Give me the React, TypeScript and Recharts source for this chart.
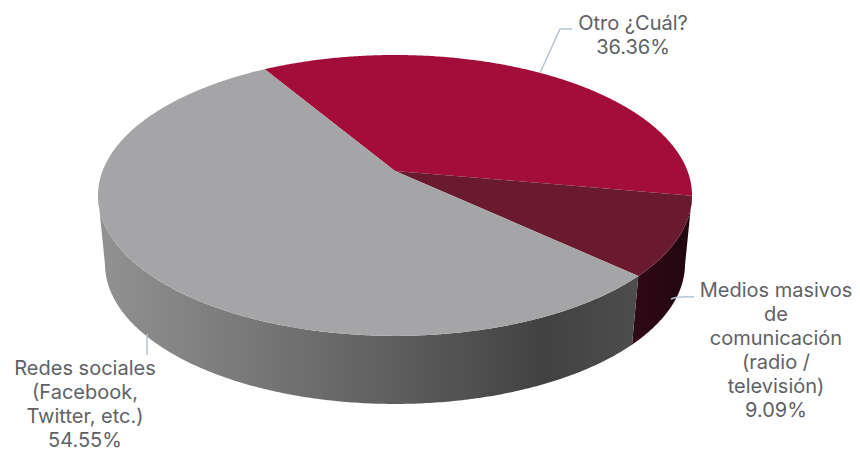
import { Pie, PieChart } from "recharts";

const sliceNames = ["Otro ¿Cuál?", "Medios masivos de comunicación", "Redes sociales"];
const sliceValues = [36.36, 9.09, 54.55];
const sliceLabels = [
  ["Otro ¿Cuál?"],
  ["Medios masivos", "de", "comunicación", "(radio /", "televisión)"],
  ["Redes sociales", "(Facebook,", "Twitter, etc.)"],
];
const topColors = ["#a30d3a", "#6a1a2e", "#a5a5a7"];
const wallColors = ["#2a0714", "url(#darkWall)", "url(#grayWall)"];

const CX = 395;
const CY = 171;
const RADIUS = 292.5;
const FIRST_ANGLE = 120.8;

// perspective of the disc, top face and underside
const TILT = 136.2 / 292.5;
const BOTTOM_TILT = 127.1 / 292.5;
const FALLOFF = 0.174;
const DEPTH = 70.8 / 292.5;
const DEPTH_FALLOFF = 0.0235;
// rim is only seen between its two tangent points
const RIM_FROM = -10;
const RIM_TO = -170;

// where each label sits: text centre, first baseline, leader line
const labelLayout = [
  { x: 633, y: 30, line: "M540 73 L560 29 L572 29" },
  { x: 776, y: 297, line: "M671 299 Q678 296 694 297" },
  { x: 85, y: 375, line: "M147 334 L147 355" },
];
const LINE_HEIGHT = 24;

const tableTop = sliceNames.map((name, i) => ({ name, value: sliceValues[i], fill: topColors[i] }));
const tableWall = sliceNames.map((name, i) => ({ name, value: sliceValues[i], fill: wallColors[i] }));

function project(angle: number, z: number, cx: number, cy: number, r: number) {
  const rad = (angle * Math.PI) / 180;
  const u = Math.cos(rad);
  const v = Math.sin(rad);
  const w = 1 + FALLOFF * v + DEPTH_FALLOFF * z;
  const tilt = z ? BOTTOM_TILT : TILT;
  return [cx + (r * u) / w, cy + (r * (-tilt * v + DEPTH * z)) / w];
}

function arcPoints(from: number, to: number, z: number, cx: number, cy: number, r: number) {
  const steps = Math.max(2, Math.ceil(Math.abs(to - from) * 2));
  const pts: number[][] = [];
  for (let i = 0; i <= steps; i++) {
    pts.push(project(from + ((to - from) * i) / steps, z, cx, cy, r));
  }
  return pts;
}

const toPath = (pts: number[][]) =>
  "M" + pts.map((p) => p[0].toFixed(2) + " " + p[1].toFixed(2)).join(" L") + " Z";

function TopSlice(props: any) {
  const { cx, cy, outerRadius, startAngle, endAngle, fill } = props;
  const pts = [[cx, cy], ...arcPoints(startAngle, endAngle, 0, cx, cy, outerRadius)];
  return <path d={toPath(pts)} fill={fill} stroke="none" />;
}

function WallSlice(props: any) {
  const { cx, cy, outerRadius, startAngle, endAngle, fill } = props;
  const from = Math.min(startAngle, RIM_FROM);
  const to = Math.max(endAngle, RIM_TO);
  if (from <= to) return <g />;
  const pts = [
    ...arcPoints(from, to, 0, cx, cy, outerRadius),
    ...arcPoints(to, from, 1, cx, cy, outerRadius),
  ];
  return <path d={toPath(pts)} fill={fill} stroke="none" />;
}

function SliceLabel(props: any) {
  const i = props.index;
  const layout = labelLayout[i];
  const lines = [...sliceLabels[i], sliceValues[i].toFixed(2) + "%"];
  return (
    <g>
      <path d={layout.line} fill="none" stroke="#b4c3d4" strokeWidth={1.5} />
      <text
        x={layout.x}
        y={layout.y}
        textAnchor="middle"
        fontFamily="Inter, sans-serif"
        fontSize={20}
        fill="#5f6165"
      >
        {lines.map((line, n) => (
          <tspan key={n} x={layout.x} y={layout.y + n * LINE_HEIGHT}>
            {line}
          </tspan>
        ))}
      </text>
    </g>
  );
}

export default function App() {
  return (
    <div style={{ position: "absolute", left: 0, top: 0 }}>
      <PieChart width={860} height={451} margin={{ top: 0, right: 0, bottom: 0, left: 0 }}>
        <defs>
          <linearGradient id="grayWall" gradientUnits="userSpaceOnUse" x1="98" y1="0" x2="640" y2="0">
            <stop offset="0%" stopColor="#929292" />
            <stop offset="25%" stopColor="#7b7b7b" />
            <stop offset="55%" stopColor="#5e5e5e" />
            <stop offset="82%" stopColor="#424242" />
            <stop offset="100%" stopColor="#4d4d4d" />
          </linearGradient>
          <linearGradient id="darkWall" gradientUnits="userSpaceOnUse" x1="633" y1="0" x2="692" y2="0">
            <stop offset="0%" stopColor="#2f0916" />
            <stop offset="100%" stopColor="#22060f" />
          </linearGradient>
        </defs>
        <Pie
          data={tableWall}
          dataKey="value"
          nameKey="name"
          cx={CX}
          cy={CY}
          outerRadius={RADIUS}
          startAngle={FIRST_ANGLE}
          endAngle={FIRST_ANGLE - 360}
          shape={WallSlice}
          label={false}
          labelLine={false}
          stroke="none"
          isAnimationActive={false}
        />
        <Pie
          data={tableTop}
          dataKey="value"
          nameKey="name"
          cx={CX}
          cy={CY}
          outerRadius={RADIUS}
          startAngle={FIRST_ANGLE}
          endAngle={FIRST_ANGLE - 360}
          shape={TopSlice}
          label={SliceLabel}
          labelLine={false}
          stroke="none"
          isAnimationActive={false}
        />
      </PieChart>
    </div>
  );
}
